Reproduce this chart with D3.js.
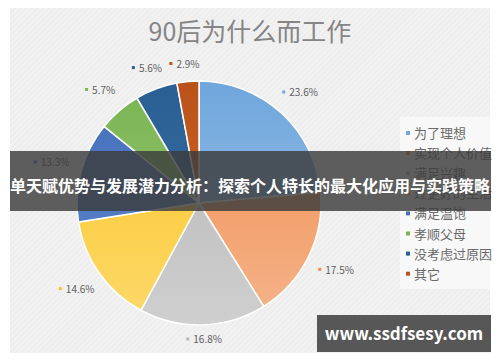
<!DOCTYPE html>
<html>
<head>
<meta charset="utf-8">
<script src="https://cdn.jsdelivr.net/npm/d3@7"></script>
<style>
  body { margin: 0; background: #fff; }
  text { font-family: "Noto Sans CJK SC", "Noto Sans", sans-serif; }
</style>
</head>
<body>
<div class="chart"></div>
<script>
// chart data
var categories = ["为了理想", "实现个人价值", "满足兴趣", "过更好的生活", "满足温饱", "孝顺父母", "没考虑过原因", "其它"];
var values = [23.6, 17.5, 16.8, 14.6, 13.3, 5.7, 5.6, 2.9];
var labels = ["23.6%", "17.5%", "16.8%", "14.6%", "13.3%", "5.7%", "5.6%", "2.9%"];
var title = "90后为什么而工作";
var bannerText = "单天赋优势与发展潜力分析：探索个人特长的最大化应用与实践策略";
var watermark = "www.ssdfsesy.com";

var colors = ["#6fa6dc", "#f08a4b", "#b4b4b4", "#fbc420", "#4670bb", "#79b451", "#2a5f93", "#b9521a"];
var lightColors = ["#a2c6ea", "#f5b58c", "#cfcfcf", "#fcd96c", "#5b84c9", "#9fcb7e", "#3b72a8", "#dd6a25"];

var svgWidth = 500, svgHeight = 362;

var svg = d3.select(".chart")
  .append("svg")
  .attr("width", svgWidth)
  .attr("height", svgHeight);

var defs = svg.append("defs");

// faint diagonal hatching for the plot background
var pattern = defs.append("pattern")
  .attr("id", "hatch")
  .attr("width", 4)
  .attr("height", 4)
  .attr("patternUnits", "userSpaceOnUse")
  .attr("patternTransform", "rotate(45)");
pattern.append("rect").attr("width", 4).attr("height", 4).attr("fill", "#f1f1f1");
pattern.append("line").attr("x1", 0).attr("y1", 0).attr("x2", 0).attr("y2", 4)
  .attr("stroke", "#e8e8e8").attr("stroke-width", 1.2);

svg.append("rect")
  .attr("x", 10).attr("y", 8)
  .attr("width", 480).attr("height", 345)
  .attr("fill", "url(#hatch)");

// title
svg.append("text")
  .attr("x", 250)
  .attr("y", 41)
  .attr("text-anchor", "middle")
  .attr("font-size", 25)
  .attr("fill", "#858585")
  .text(title);

// pie
var cx = 199, cy = 203, radius = 122;

var pie = d3.pie().sort(null).value(d => d);
var arcs = pie(values);

var arc = d3.arc().innerRadius(0).outerRadius(radius);

// label block sits a bit further out on the sides (text is wider than tall)
function labelPos(d) {
  var mid = (d.startAngle + d.endAngle) / 2;
  var r = 137 + 17 * Math.abs(Math.sin(mid));
  return d3.arc().innerRadius(r).outerRadius(r).centroid(d);
}

colors.forEach(function(c, i) {
  var g = defs.append("linearGradient")
    .attr("id", "grad" + i)
    .attr("gradientUnits", "userSpaceOnUse")
    .attr("x1", 0).attr("y1", -radius)
    .attr("x2", 0).attr("y2", radius);
  g.append("stop").attr("offset", "0%").attr("stop-color", c);
  g.append("stop").attr("offset", "100%").attr("stop-color", lightColors[i]);
});

var pieGroup = svg.append("g")
  .attr("transform", `translate(${cx}, ${cy})`);

pieGroup.selectAll("path")
  .data(arcs)
  .enter()
  .append("path")
  .attr("d", arc)
  .attr("fill", (d, i) => `url(#grad${i})`)
  .attr("stroke", "#ffffff")
  .attr("stroke-width", 1.5);

// data labels: small square marker + percentage
var labelGroup = pieGroup.selectAll(".lbl")
  .data(arcs)
  .enter()
  .append("g")
  .attr("class", "lbl")
  .attr("transform", d => {
    var p = labelPos(d);
    return `translate(${p[0]}, ${p[1]})`;
  });

labelGroup.append("rect")
  .attr("x", -17)
  .attr("y", -3)
  .attr("width", 3)
  .attr("height", 3)
  .attr("fill", (d, i) => colors[i]);

labelGroup.append("text")
  .attr("x", -10)
  .attr("y", 3)
  .attr("font-size", 10)
  .attr("fill", "#606060")
  .text((d, i) => labels[i]);

// legend
svg.append("rect")
  .attr("x", 400).attr("y", 117)
  .attr("width", 90).attr("height", 172)
  .attr("fill", "#f8f8f8");

var legend = svg.selectAll(".legend")
  .data(categories)
  .enter()
  .append("g")
  .attr("class", "legend")
  .attr("transform", (d, i) => `translate(406, ${133 + i * 20.1})`);

legend.append("rect")
  .attr("x", 0).attr("y", -2)
  .attr("width", 4).attr("height", 4)
  .attr("fill", (d, i) => colors[i]);

legend.append("text")
  .attr("x", 8)
  .attr("y", 5)
  .attr("font-size", 13)
  .attr("fill", "#6a6a6a")
  .text(d => d);

// dark banner across the middle
svg.append("rect")
  .attr("x", 10).attr("y", 151)
  .attr("width", 481).attr("height", 60)
  .attr("fill", "#3c3c3c")
  .attr("fill-opacity", 0.82);

svg.append("text")
  .attr("x", 250)
  .attr("y", 192)
  .attr("text-anchor", "middle")
  .attr("font-size", 16)
  .attr("font-weight", "bold")
  .attr("fill", "#ffffff")
  .text(bannerText);

// watermark box
svg.append("rect")
  .attr("x", 317).attr("y", 315)
  .attr("width", 174).attr("height", 37)
  .attr("fill", "#575757");

svg.append("text")
  .attr("x", 404)
  .attr("y", 340)
  .attr("text-anchor", "middle")
  .attr("font-size", 17)
  .attr("font-weight", "bold")
  .attr("font-family", "'DejaVu Sans', sans-serif")
  .attr("fill", "#ffffff")
  .text(watermark);
</script>
</body>
</html>
